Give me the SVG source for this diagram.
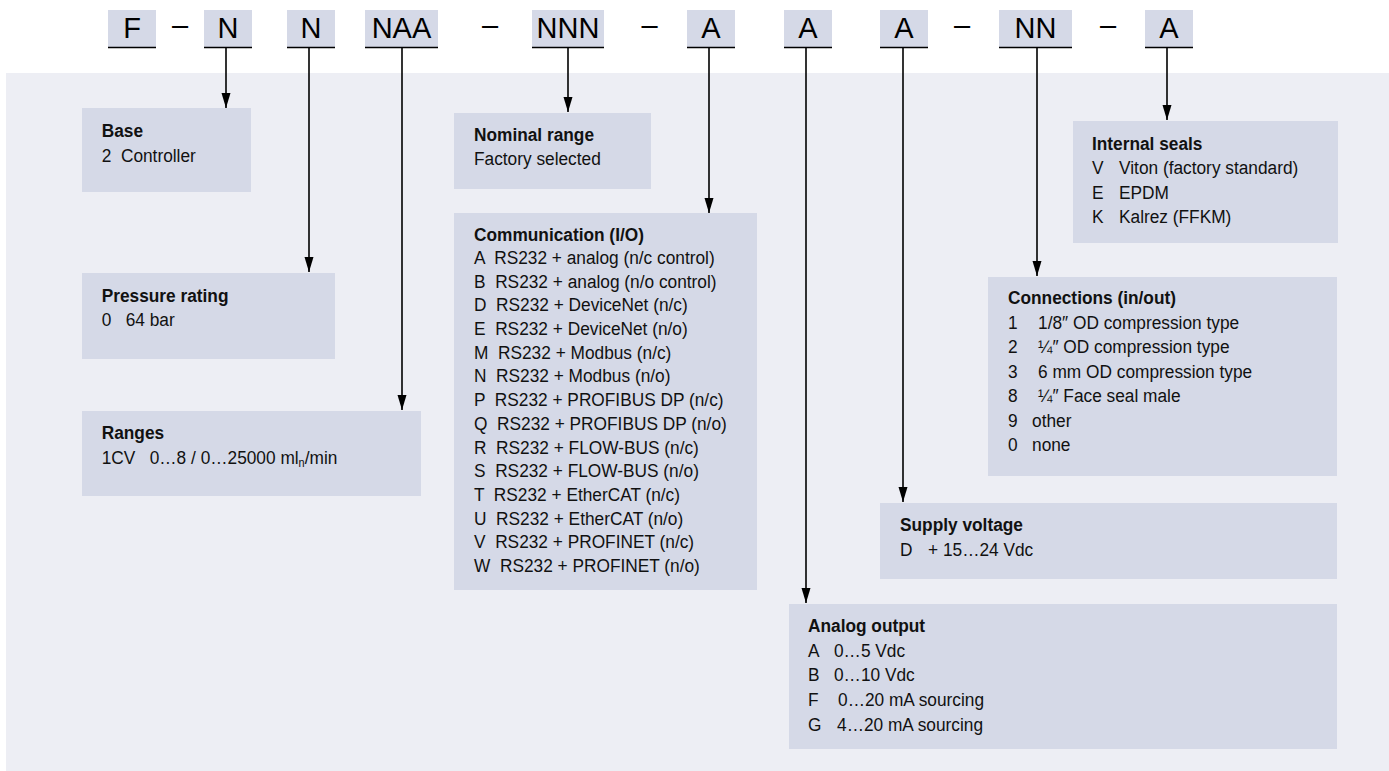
<svg xmlns="http://www.w3.org/2000/svg" width="1389" height="771" viewBox="0 0 1389 771" xml:space="preserve">
<style>
.panel{fill:#EDEEF4}
.box{fill:#D5D9E7}
.ul{stroke:#000;stroke-width:1.6}
.code{font-family:"Liberation Sans",Arial,sans-serif;font-size:29px;fill:#000;text-anchor:middle}
.dash{font-family:"Liberation Sans",Arial,sans-serif;font-size:29px;fill:#000;text-anchor:middle}
.h{font-family:"Liberation Sans",Arial,sans-serif;font-size:19px;font-weight:bold;fill:#111;white-space:pre}
.b{font-family:"Liberation Sans",Arial,sans-serif;font-size:19px;fill:#111;white-space:pre}
.conn line{stroke:#000;stroke-width:1.6;marker-end:url(#arr)}
</style>
<defs>
<marker id="arr" markerUnits="userSpaceOnUse" markerWidth="16" markerHeight="10" refX="15" refY="4.5" orient="auto">
<path d="M0,0 L15,4.5 L0,9 z" fill="#000"/>
</marker>
</defs>
<rect class="panel" x="6" y="73" width="1383" height="698"/>

<g id="code">
<g id="code-F"><rect class="box" x="108" y="10" width="48" height="37.5"/><line class="ul" x1="108" y1="47.5" x2="156" y2="47.5"/><text class="code" x="132" y="37.5">F</text></g>
<text class="dash" x="180" y="34.5">–</text>
<g id="code-N1"><rect class="box" x="204" y="10" width="48" height="37.5"/><line class="ul" x1="204" y1="47.5" x2="252" y2="47.5"/><text class="code" x="228" y="37.5">N</text></g>
<g id="code-N2"><rect class="box" x="287" y="10" width="48" height="37.5"/><line class="ul" x1="287" y1="47.5" x2="335" y2="47.5"/><text class="code" x="311" y="37.5">N</text></g>
<g id="code-NAA"><rect class="box" x="365" y="10" width="73" height="37.5"/><line class="ul" x1="365" y1="47.5" x2="438" y2="47.5"/><text class="code" x="401.5" y="37.5">NAA</text></g>
<text class="dash" x="490" y="34.5">–</text>
<g id="code-NNN"><rect class="box" x="532" y="10" width="72" height="37.5"/><line class="ul" x1="532" y1="47.5" x2="604" y2="47.5"/><text class="code" x="568" y="37.5">NNN</text></g>
<text class="dash" x="649.5" y="34.5">–</text>
<g id="code-A1"><rect class="box" x="687" y="10" width="48" height="37.5"/><line class="ul" x1="687" y1="47.5" x2="735" y2="47.5"/><text class="code" x="711" y="37.5">A</text></g>
<g id="code-A2"><rect class="box" x="784" y="10" width="48" height="37.5"/><line class="ul" x1="784" y1="47.5" x2="832" y2="47.5"/><text class="code" x="808" y="37.5">A</text></g>
<g id="code-A3"><rect class="box" x="880" y="10" width="48" height="37.5"/><line class="ul" x1="880" y1="47.5" x2="928" y2="47.5"/><text class="code" x="904" y="37.5">A</text></g>
<text class="dash" x="962" y="34.5">–</text>
<g id="code-NN"><rect class="box" x="999" y="10" width="73" height="37.5"/><line class="ul" x1="999" y1="47.5" x2="1072" y2="47.5"/><text class="code" x="1035.5" y="37.5">NN</text></g>
<text class="dash" x="1108" y="34.5">–</text>
<g id="code-A4"><rect class="box" x="1145" y="10" width="48" height="37.5"/><line class="ul" x1="1145" y1="47.5" x2="1193" y2="47.5"/><text class="code" x="1169" y="37.5">A</text></g>
</g>

<g id="connectors" class="conn">
<line x1="226" y1="48" x2="226" y2="108"/>
<line x1="309" y1="48" x2="309" y2="272"/>
<line x1="402" y1="48" x2="402" y2="410"/>
<line x1="568" y1="48" x2="568" y2="112"/>
<line x1="709" y1="48" x2="709" y2="213"/>
<line x1="806" y1="48" x2="806" y2="603"/>
<line x1="903" y1="48" x2="903" y2="502"/>
<line x1="1037" y1="48" x2="1037" y2="276"/>
<line x1="1167" y1="48" x2="1167" y2="120"/>
</g>

<g id="node-base">
<rect class="box" x="82" y="108" width="169" height="84"/>
<g transform="translate(101.7,0) scale(0.91,1)">
<text class="h" x="0" y="137">Base</text>
<text class="b" x="0" y="162">2  Controller</text>
</g>
</g>

<g id="node-pressure">
<rect class="box" x="82" y="273" width="253" height="86"/>
<g transform="translate(101.7,0) scale(0.91,1)">
<text class="h" x="0" y="302">Pressure rating</text>
<text class="b" x="0" y="326">0   64 bar</text>
</g>
</g>

<g id="node-ranges">
<rect class="box" x="82" y="411" width="339" height="85"/>
<g transform="translate(101.7,0) scale(0.91,1)">
<text class="h" x="0" y="439">Ranges</text>
<text class="b" x="0" y="464">1CV   0…8 / 0…25000 ml<tspan font-size="12" dy="3">n</tspan><tspan dy="-3">/min</tspan></text>
</g>
</g>

<g id="node-nominal">
<rect class="box" x="454" y="113" width="197" height="76"/>
<g transform="translate(474,0) scale(0.91,1)">
<text class="h" x="0" y="141">Nominal range</text>
<text class="b" x="0" y="165">Factory selected</text>
</g>
</g>

<g id="node-communication">
<rect class="box" x="454" y="213" width="303" height="377"/>
<g transform="translate(474,0) scale(0.91,1)">
<text class="h" x="0" y="241">Communication (I/O)</text>
<text class="b" x="0" y="264">A  RS232 + analog (n/c control)</text>
<text class="b" x="0" y="287.7">B  RS232 + analog (n/o control)</text>
<text class="b" x="0" y="311.4">D  RS232 + DeviceNet (n/c)</text>
<text class="b" x="0" y="335.1">E  RS232 + DeviceNet (n/o)</text>
<text class="b" x="0" y="358.8">M  RS232 + Modbus (n/c)</text>
<text class="b" x="0" y="382.5">N  RS232 + Modbus (n/o)</text>
<text class="b" x="0" y="406.2">P  RS232 + PROFIBUS DP (n/c)</text>
<text class="b" x="0" y="429.9">Q  RS232 + PROFIBUS DP (n/o)</text>
<text class="b" x="0" y="453.6">R  RS232 + FLOW-BUS (n/c)</text>
<text class="b" x="0" y="477.3">S  RS232 + FLOW-BUS (n/o)</text>
<text class="b" x="0" y="501">T  RS232 + EtherCAT (n/c)</text>
<text class="b" x="0" y="524.7">U  RS232 + EtherCAT (n/o)</text>
<text class="b" x="0" y="548.4">V  RS232 + PROFINET (n/c)</text>
<text class="b" x="0" y="572.1">W  RS232 + PROFINET (n/o)</text>
</g>
</g>

<g id="node-seals">
<rect class="box" x="1073" y="121" width="265" height="122"/>
<g transform="translate(1092,0) scale(0.91,1)">
<text class="h" x="0" y="150">Internal seals</text>
<text class="b" x="0" y="174.5">V</text><text class="b" x="29.7" y="174.5">Viton (factory standard)</text>
<text class="b" x="0" y="199">E</text><text class="b" x="29.7" y="199">EPDM</text>
<text class="b" x="0" y="223.5">K</text><text class="b" x="29.7" y="223.5">Kalrez (FFKM)</text>
</g>
</g>

<g id="node-connections">
<rect class="box" x="988" y="277" width="349" height="199"/>
<g transform="translate(1008,0) scale(0.91,1)">
<text class="h" x="0" y="304">Connections (in/out)</text>
<text class="b" x="0" y="329">1</text><text class="b" x="33" y="329">1/8″ OD compression type</text>
<text class="b" x="0" y="353.5">2</text><text class="b" x="33" y="353.5">¼″ OD compression type</text>
<text class="b" x="0" y="378">3</text><text class="b" x="33" y="378">6 mm OD compression type</text>
<text class="b" x="0" y="402.5">8</text><text class="b" x="33" y="402.5">¼″ Face seal male</text>
<text class="b" x="0" y="427">9</text><text class="b" x="26.4" y="427">other</text>
<text class="b" x="0" y="451.5">0</text><text class="b" x="26.4" y="451.5">none</text>
</g>
</g>

<g id="node-supply">
<rect class="box" x="880" y="503" width="457" height="76"/>
<g transform="translate(900,0) scale(0.91,1)">
<text class="h" x="0" y="531">Supply voltage</text>
<text class="b" x="0" y="556">D</text><text class="b" x="30.8" y="556">+ 15…24 Vdc</text>
</g>
</g>

<g id="node-analog">
<rect class="box" x="789" y="604" width="548" height="145"/>
<g transform="translate(808,0) scale(0.91,1)">
<text class="h" x="0" y="632">Analog output</text>
<text class="b" x="0" y="657">A</text><text class="b" x="28.6" y="657">0…5 Vdc</text>
<text class="b" x="0" y="681.5">B</text><text class="b" x="28.6" y="681.5">0…10 Vdc</text>
<text class="b" x="0" y="706">F</text><text class="b" x="33" y="706">0…20 mA sourcing</text>
<text class="b" x="0" y="731">G</text><text class="b" x="31.9" y="731">4…20 mA sourcing</text>
</g>
</g>
</svg>
